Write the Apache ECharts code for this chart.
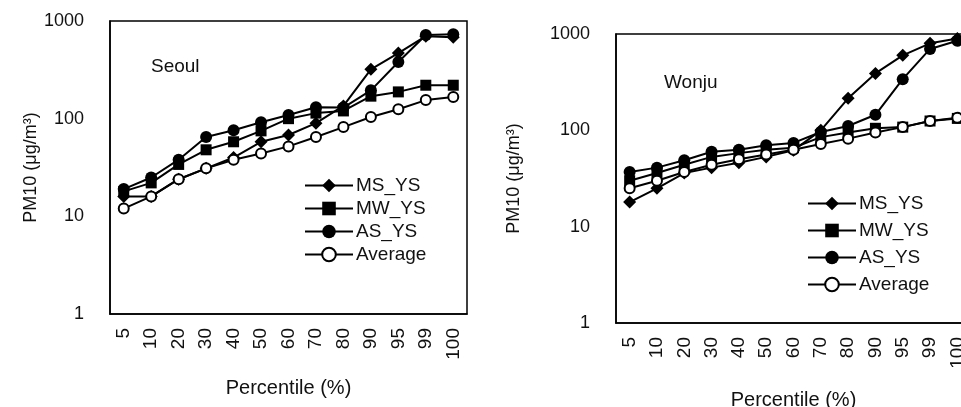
<!DOCTYPE html>
<html>
<head>
<meta charset="utf-8">
<script src="https://cdn.jsdelivr.net/npm/echarts@6/dist/echarts.min.js"></script>
<style>
  html, body { margin: 0; padding: 0; background: #fff; }
  #chart { width: 961px; height: 407px; }
</style>
</head>
<body>
<div id="chart"></div>
<script>
// percentile categories (shared by both panels)
const percentiles = ['5', '10', '20', '30', '40', '50', '60', '70', '80', '90', '95', '99', '100'];
const seriesNames = ['MS_YS', 'MW_YS', 'AS_YS', 'Average'];

// Seoul panel, PM10 in ug/m3
const seoulMS = [16, 16, 24, 31, 40, 58, 68, 90, 135, 320, 470, 700, 680];
const seoulMW = [18, 22, 34, 48, 58, 75, 100, 114, 120, 170, 188, 220, 220];
const seoulAS = [19, 25, 38, 65, 76, 92, 109, 131, 130, 195, 380, 720, 730];
const seoulAvg = [12, 16, 24, 31, 38, 44, 52, 65, 82, 104, 125, 155, 167];

// Wonju panel
const wonjuMS = [18, 25, 36, 41, 46, 53, 62, 100, 215, 390, 600, 800, 900];
const wonjuMW = [30, 36, 44, 53, 58, 63, 66, 85, 95, 105, 108, 125, 133];
const wonjuAS = [37, 41, 49, 60, 63, 70, 74, 96, 111, 145, 340, 700, 850];
const wonjuAvg = [25, 30, 37, 44, 50, 56, 63, 72, 82, 95, 108, 125, 135];

const FONT = '"Liberation Sans", Arial, sans-serif';
const symbols = [['diamond', 13], ['rect', 11], ['circle', 12], ['emptyCircle', 10]];

function makeSeries(data, gridIdx) {
  return data.map((d, i) => ({
    name: seriesNames[i],
    type: 'line',
    xAxisIndex: gridIdx,
    yAxisIndex: gridIdx,
    data: d,
    symbol: symbols[i][0],
    symbolSize: symbols[i][1],
    showAllSymbol: true,
    lineStyle: { color: '#000', width: 2 },
    itemStyle: { color: '#000', borderColor: '#000', borderWidth: i === 3 ? 2 : 0 },
    emphasis: { disabled: true },
    z: 3,
  }));
}

const xAxisBase = {
  type: 'category',
  data: percentiles,
  boundaryGap: true,
  name: 'Percentile (%)',
  nameLocation: 'middle',
  nameTextStyle: { fontFamily: FONT, fontSize: 20, color: '#111' },
  axisLine: { lineStyle: { color: '#000', width: 1.5 } },
  axisTick: { show: false },
  axisLabel: { rotate: 90, margin: 14, fontFamily: FONT, fontSize: 19, color: '#111', interval: 0 },
  splitLine: { show: false },
};

const yAxisBase = {
  type: 'log',
  logBase: 10,
  min: 1,
  max: 1000,
  name: 'PM10 (μg/m³)',
  nameLocation: 'middle',
  nameRotate: 90,
  nameTextStyle: { fontFamily: FONT, fontSize: 18, color: '#111' },
  axisLine: { show: true, lineStyle: { color: '#000', width: 1.5 } },
  axisTick: { show: false },
  axisLabel: { fontFamily: FONT, fontSize: 18, color: '#111', margin: 26, formatter: v => String(Math.round(v)) },
  splitLine: { show: false },
};

const legendBase = {
  data: seriesNames,
  orient: 'vertical',
  itemWidth: 48,
  itemHeight: 17,
  padding: 0,
  selectedMode: false,
  textStyle: { fontFamily: FONT, fontSize: 19, lineHeight: 19, color: '#111', padding: [0, 0, 0, -2] },
};

const chart = echarts.init(document.getElementById('chart'));
chart.setOption({
  animation: false,
  backgroundColor: '#fff',
  grid: [
    { left: 110, top: 21, width: 357, height: 293, outerBoundsMode: 'none', show: true, borderColor: '#000', borderWidth: 1.5, backgroundColor: 'transparent' },
    { left: 616, top: 34, width: 355, height: 289, outerBoundsMode: 'none', show: true, borderColor: '#000', borderWidth: 1.5, backgroundColor: 'transparent' },
  ],
  xAxis: [
    Object.assign({}, xAxisBase, { gridIndex: 0, nameGap: 64 }),
    Object.assign({}, xAxisBase, { gridIndex: 1, nameGap: 67 }),
  ],
  yAxis: [
    Object.assign({}, yAxisBase, { gridIndex: 0, nameGap: 70 }),
    Object.assign({}, yAxisBase, { gridIndex: 1, nameGap: 93 }),
  ],
  title: [
    { text: 'Seoul', left: 146, top: 52, textStyle: { fontFamily: FONT, fontSize: 19, fontWeight: 'normal', color: '#111' } },
    { text: 'Wonju', left: 659, top: 68, textStyle: { fontFamily: FONT, fontSize: 19, fontWeight: 'normal', color: '#111' } },
  ],
  legend: [
    Object.assign({}, legendBase, { left: 304, top: 176, itemGap: 4 }),
    Object.assign({}, legendBase, { left: 807, top: 194, itemGap: 8 }),
  ],
  series: [
    ...makeSeries([seoulMS, seoulMW, seoulAS, seoulAvg], 0),
    ...makeSeries([wonjuMS, wonjuMW, wonjuAS, wonjuAvg], 1),
  ],
});
</script>
</body>
</html>
